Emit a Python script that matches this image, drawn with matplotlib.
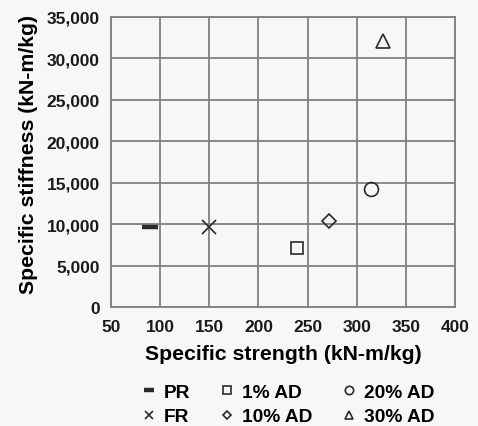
import matplotlib
matplotlib.use("Agg")
import matplotlib.pyplot as plt
from matplotlib.ticker import FuncFormatter

labels = ["PR", "FR", "1% AD", "10% AD", "20% AD", "30% AD"]
strength = [90, 150, 239, 272, 315, 327]
stiffness = [9700, 9700, 7100, 10400, 14200, 32100]
markers = ["_", "x", "s", "D", "o", "^"]
sizes = [11, 10.5, 8.8, 7.6, 10, 10.3]

plt.rcParams['font.family'] = 'Liberation Sans'
plt.rcParams['font.weight'] = 'bold'
plt.rcParams['font.size'] = 12

fig = plt.figure(figsize=(4.78, 4.27), dpi=100, facecolor='#f7f7f7')
ax = fig.add_axes([111/478, 1 - 308/427, 344/478, 290/427])
ax.set_facecolor('#f7f7f7')

for lab, xv, yv, mk, ms in zip(labels, strength, stiffness, markers, sizes):
    mew = 3.2 if mk == "_" else 1.2
    ax.plot([xv], [yv], linestyle='none', marker=mk, ms=ms, mfc='none',
            mec='#2a2a2a', mew=mew, label=lab)

ax.set_xlim(50, 400)
ax.set_ylim(0, 35000)
ax.set_xticks(range(50, 401, 50))
ax.set_yticks(range(0, 35001, 5000))
ax.yaxis.set_major_formatter(FuncFormatter(lambda v, p: f"{int(v):,}"))
ax.grid(True, color='#808080', lw=1.3)
ax.set_axisbelow(True)
for s in ax.spines.values():
    s.set_color('#808080')
    s.set_linewidth(1.3)
ax.tick_params(length=0, labelsize=12.5, colors='#1a1a1a')
ax.tick_params(axis='x', pad=9)
ax.tick_params(axis='y', pad=8)
ax.set_xlabel('Specific strength (kN-m/kg)', fontsize=15.3, fontweight='bold', labelpad=7)
ax.set_ylabel('Specific stiffness (kN-m/kg)', fontsize=15.3, fontweight='bold', labelpad=6)
ax.yaxis.label.set_y(0.53)

leg = ax.legend(ncol=3, loc='center', bbox_to_anchor=(288/478, 1 - 405.5/427),
                bbox_transform=fig.transFigure,
                frameon=False, fontsize=13.8, markerscale=0.6,
                handlelength=0.8, handletextpad=0.4, columnspacing=1.5,
                labelspacing=0.36, borderpad=0.2)

fig.savefig('out.png', dpi=100, facecolor=fig.get_facecolor())
